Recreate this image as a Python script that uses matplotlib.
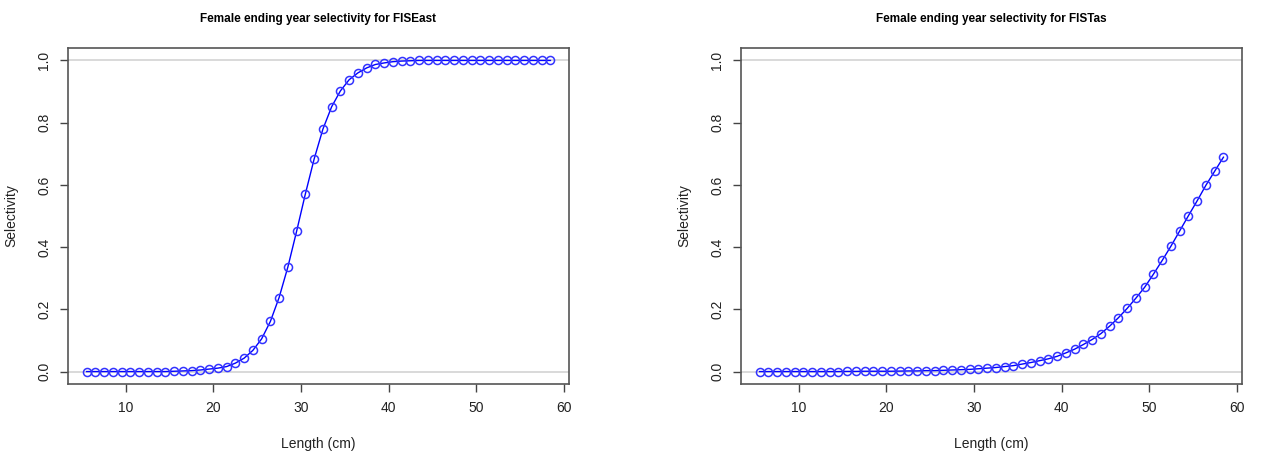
import matplotlib
matplotlib.use('Agg')
import matplotlib.pyplot as plt

plt.rcParams['font.family'] = ['Liberation Sans', 'DejaVu Sans']

# length bins (cm)
lengths = [5.5 + i for i in range(54)]

# selectivity values
sel_east = [0.0, 0.0, 0.0, 0.0, 0.0, 0.0, 0.0, 0.0, 0.0, 0.0,
            0.001, 0.002, 0.003, 0.005, 0.008, 0.011, 0.016, 0.027, 0.043, 0.068,
            0.105, 0.161, 0.238, 0.336, 0.451, 0.571, 0.683, 0.779, 0.851, 0.902,
            0.938, 0.960, 0.976, 0.987, 0.992, 0.996, 0.998, 0.999, 1.0, 1.0,
            1.0, 1.0, 1.0, 1.0, 1.0, 1.0, 1.0, 1.0, 1.0, 1.0,
            1.0, 1.0, 1.0, 1.0]
sel_tas = [0.0, 0.0, 0.0, 0.0, 0.0, 0.0, 0.0, 0.0, 0.0, 0.0,
           0.0005, 0.0005, 0.001, 0.001, 0.001, 0.001, 0.0015, 0.002, 0.002, 0.003,
           0.003, 0.004, 0.005, 0.006, 0.007, 0.009, 0.011, 0.013, 0.016, 0.019,
           0.024, 0.029, 0.035, 0.041, 0.049, 0.060, 0.072, 0.087, 0.103, 0.122,
           0.146, 0.173, 0.203, 0.236, 0.271, 0.313, 0.357, 0.403, 0.452, 0.501,
           0.549, 0.599, 0.644, 0.689]

titles = ['Female ending year selectivity for FISEast',
          'Female ending year selectivity for FISTas']
xticks = [10, 20, 30, 40, 50, 60]
yticks = [0.0, 0.2, 0.4, 0.6, 0.8, 1.0]

fig = plt.figure(figsize=(12.8, 4.53), dpi=100)
W, H = 1280, 453
lefts = [68, 741]

for left, sel, title in zip(lefts, [sel_east, sel_tas], titles):
    ax = fig.add_axes([left / W, (H - 384) / H, 501 / W, 336 / H])
    ax.axhline(0, color='#d3d3d3', lw=1.2, zorder=1)
    ax.axhline(1, color='#d3d3d3', lw=1.2, zorder=1)
    ax.plot(lengths, sel, color='blue', lw=1, zorder=2)
    ax.plot(lengths, sel, 'o', mfc='none', mec='#3333ff', mew=1.1, ms=5.8, zorder=3)
    rng = lengths[-1] - lengths[0]
    ax.set_xlim(lengths[0] - 0.04 * rng, lengths[-1] + 0.04 * rng)
    ax.set_ylim(-0.04, 1.04)
    ax.set_xticks(xticks)
    ax.set_yticks(yticks)
    ax.set_yticklabels(['%.1f' % v for v in yticks], rotation=90, va='center')
    ax.tick_params(direction='out', length=6, width=1, color='#444444',
                   labelsize=10, labelcolor='#222222', pad=6)
    for s in ax.spines.values():
        s.set_color('#555555')
        s.set_linewidth(1.2)
    ax.set_xlabel('Length (cm)', fontsize=10, labelpad=16, color='#222222')
    ax.set_ylabel('Selectivity', fontsize=10, labelpad=14, color='#222222')
    ax.set_title(title, fontsize=8.5, fontweight='bold', pad=19)

fig.savefig('out.png', dpi=100)
